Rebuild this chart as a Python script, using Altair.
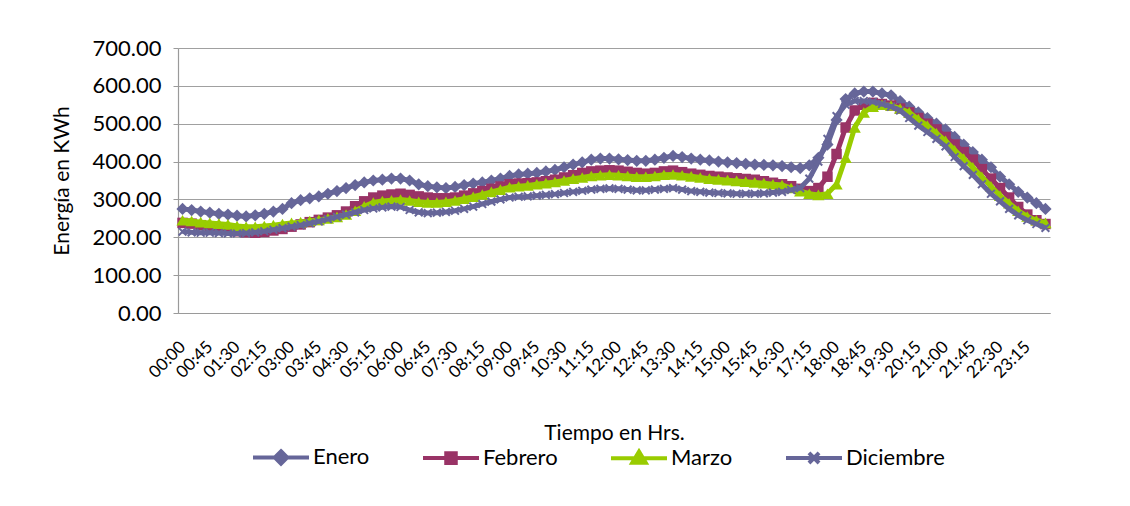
import altair as alt
import pandas as pd

horas = [f"{h:02d}:{m:02d}" for h in range(24) for m in (0, 15, 30, 45)]

enero = [275,272,268,265,262,260,257,255,258,262,268,275,
         290,298,303,308,315,322,330,338,345,350,352,355,
         355,350,340,335,332,330,333,338,342,345,350,355,
         362,366,368,370,374,378,385,392,398,405,408,408,
         406,404,402,402,405,410,415,412,408,405,403,400,
         398,396,394,392,391,390,388,385,383,390,410,445,
         510,565,580,585,585,580,575,560,545,530,515,500,
         485,465,445,425,405,385,360,340,320,305,290,275]

febrero = [238,236,232,228,224,220,216,213,212,214,218,222,
           228,234,240,246,252,258,268,282,295,305,310,313,
           315,312,308,305,303,303,305,310,316,322,328,334,
           340,342,343,345,348,352,358,364,370,374,376,377,
           376,373,370,368,370,374,376,372,368,365,362,360,
           358,356,354,352,348,344,340,335,328,322,330,360,
           420,490,535,550,555,552,548,540,530,515,500,485,
           465,445,425,405,380,355,330,305,280,260,245,235]

marzo = [245,243,240,238,236,234,230,228,228,230,232,235,
         238,240,243,246,250,254,260,270,282,292,296,298,
         300,297,294,292,292,294,297,302,307,313,320,326,
         332,335,337,340,343,346,350,355,358,362,364,365,
         364,362,360,360,362,365,366,364,361,358,355,353,
         351,349,347,345,343,340,338,330,322,315,312,315,
         340,410,490,530,545,550,548,540,530,512,495,475,
         455,430,408,385,360,335,310,290,270,255,245,238]

diciembre = [215,213,212,212,211,210,210,211,213,216,220,224,
             228,232,237,242,248,254,260,266,272,276,279,281,
             280,272,266,264,265,267,270,275,281,288,294,300,
             305,307,308,310,312,314,317,320,323,326,328,329,
             328,326,324,324,326,328,330,326,322,320,318,317,
             316,315,315,315,316,318,320,325,330,355,400,460,
             520,550,560,560,558,552,545,535,515,495,478,460,
             440,412,388,365,340,315,295,275,258,245,235,225]

series = ["Enero", "Febrero", "Marzo", "Diciembre"]
colors = ["#666699", "#993366", "#99CC00", "#666699"]
valores = [enero, febrero, marzo, diciembre]

rows = []
for s, vals in zip(series, valores):
    for h, v in zip(horas, vals):
        rows.append({"hora": h, "serie": s, "valor": v})
df = pd.DataFrame(rows)

FONT = "Lato"
FS = 22

x_enc = alt.X("hora:O", sort=horas,
              scale=alt.Scale(type="point", padding=0.5),
              axis=alt.Axis(values=horas[::3], labelAngle=-45, labelAlign="right",
                            labelBaseline="middle", labelPadding=31, ticks=False,
                            domainColor="#9a9a9a", domainWidth=1.2,
                            labelFont=FONT, labelFontSize=17, labelColor="#000000",
                            title="Tiempo en Hrs.", titlePadding=42,
                            titleFont=FONT, titleFontSize=21, titleColor="#000000",
                            titleFontWeight="normal"))
y_enc = alt.Y("valor:Q", scale=alt.Scale(domain=[0, 700]),
              axis=alt.Axis(values=[0, 100, 200, 300, 400, 500, 600, 700], format=".2f",
                            grid=True, gridColor="#a0a0a0", gridWidth=1.2,
                            tickColor="#9a9a9a", tickSize=5, domainColor="#9a9a9a",
                            domainWidth=1.2, labelPadding=12,
                            labelFont=FONT, labelFontSize=FS, labelColor="#000000",
                            title="Energía en KWh", titlePadding=20,
                            titleFont=FONT, titleFontSize=21, titleColor="#000000",
                            titleFontWeight="normal"))

marker_shapes = ["diamond", "square", "triangle-up", "M-1,-1L1,1M-1,1L1,-1"]
marker_sizes = [150, 110, 150, 60]

layers = []
for s, c, shp, sz in zip(series, colors, marker_shapes, marker_sizes):
    base = alt.Chart(df).transform_filter(alt.datum.serie == s)
    layers.append(base.mark_line(color=c, strokeWidth=5).encode(x=x_enc, y=y_enc))
    if s == "Diciembre":
        layers.append(base.mark_point(shape=shp, size=sz, filled=False, stroke=c,
                                      strokeWidth=2, opacity=1).encode(x=x_enc, y=y_enc))
    else:
        layers.append(base.mark_point(shape=shp, size=sz, filled=True, fill=c,
                                      opacity=1).encode(x=x_enc, y=y_enc))

legend_paths = [
    "M-1,0L1,0M0,-0.22L0.22,0L0,0.22L-0.22,0Z",
    "M-1,0L1,0M-0.17,-0.17L0.17,-0.17L0.17,0.17L-0.17,0.17Z",
    "M-1,0L1,0M0,-0.24L0.24,0.16L-0.24,0.16Z",
    "M-1,0L1,0M-0.18,-0.18L0.18,0.18M-0.18,0.18L0.18,-0.18",
]
leg = alt.Legend(title=None, orient="none", direction="horizontal", legendX=73, legendY=379,
                 symbolSize=3136, symbolStrokeWidth=4, columnPadding=45,
                 labelFontSize=FS, labelFont=FONT, labelColor="#000000", labelOffset=2)
legend_layer = alt.Chart(df).transform_filter("false").mark_point(
    filled=True, opacity=1, strokeWidth=4).encode(
    x=x_enc, y=y_enc,
    color=alt.Color("serie:N", scale=alt.Scale(domain=series, range=colors), legend=leg),
    stroke=alt.Stroke("serie:N", scale=alt.Scale(domain=series, range=colors), legend=leg),
    shape=alt.Shape("serie:N", scale=alt.Scale(domain=series, range=legend_paths), legend=leg),
)
layers.append(legend_layer)

chart = alt.layer(*layers).properties(
    width=872, height=265,
    background="white",
    autosize=alt.AutoSizeParams(type="none"),
    padding={"left": 170, "top": 40, "right": 72, "bottom": 183},
).configure_view(stroke=None)

chart.save("out.html", embed_options={"renderer": "svg", "actions": False})
